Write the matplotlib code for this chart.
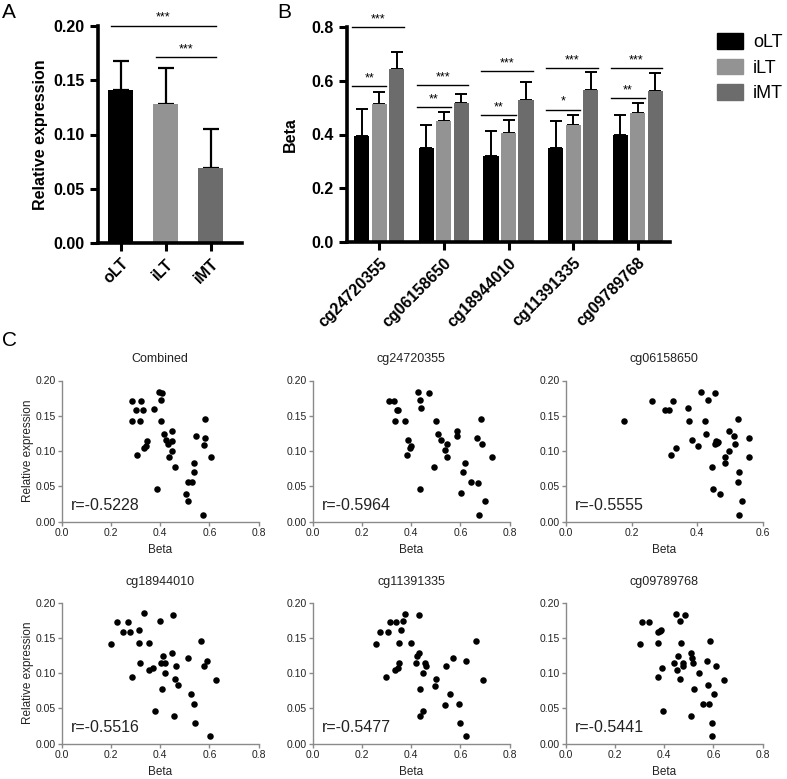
import matplotlib
matplotlib.use("Agg")
from matplotlib import pyplot as plt
from matplotlib.patches import Patch
import numpy as np

plt.rcParams["font.family"] = ["Liberation Sans", "DejaVu Sans"]

# ---- panel A data ----
groups = ["oLT", "iLT", "iMT"]
expr_mean = [0.141, 0.128, 0.069]
expr_sd = [0.027, 0.033, 0.036]
a_sig_pairs = [(0, 2), (1, 2)]
a_sig_y = [0.200, 0.171]
a_sig_text = ["***", "***"]

# ---- panel B data ----
probes = ["cg24720355", "cg06158650", "cg18944010", "cg11391335", "cg09789768"]
beta_olt = [0.396, 0.350, 0.319, 0.350, 0.400]
beta_olt_sd = [0.098, 0.084, 0.093, 0.100, 0.074]
beta_ilt = [0.515, 0.452, 0.407, 0.434, 0.479]
beta_ilt_sd = [0.044, 0.032, 0.048, 0.040, 0.040]
beta_imt = [0.643, 0.519, 0.530, 0.564, 0.563]
beta_imt_sd = [0.063, 0.031, 0.065, 0.067, 0.065]
sig_ilt_y = [0.579, 0.502, 0.471, 0.493, 0.535]
sig_ilt_text = ["**", "**", "**", "*", "**"]
sig_imt_y = [0.800, 0.583, 0.635, 0.648, 0.649]
sig_imt_text = ["***", "***", "***", "***", "***"]

colors = ["#000000", "#939393", "#6c6c6c"]

# ---- panel C data ----
combined_x = [0.286, 0.322, 0.303, 0.328, 0.287, 0.317, 0.374, 0.395, 0.408, 0.405, 0.403, 0.414,
              0.448, 0.422, 0.430, 0.448, 0.446, 0.435, 0.461, 0.346, 0.343, 0.335, 0.305, 0.386,
              0.503, 0.537, 0.537, 0.544, 0.584, 0.584, 0.577, 0.607, 0.514, 0.531, 0.515, 0.574]
combined_y = [0.171, 0.171, 0.158, 0.158, 0.142, 0.142, 0.160, 0.184, 0.182, 0.173, 0.143, 0.124,
              0.128, 0.116, 0.110, 0.114, 0.100, 0.091, 0.078, 0.115, 0.107, 0.105, 0.095, 0.047,
              0.039, 0.083, 0.070, 0.121, 0.145, 0.118, 0.109, 0.091, 0.056, 0.056, 0.030, 0.010]

cg24720355_x = [0.309, 0.330, 0.342, 0.347, 0.335, 0.373, 0.428, 0.436, 0.439, 0.474, 0.501, 0.507,
                0.523, 0.545, 0.536, 0.547, 0.586, 0.588, 0.666, 0.684, 0.688, 0.728, 0.386, 0.400,
                0.395, 0.381, 0.491, 0.434, 0.601, 0.611, 0.620, 0.643, 0.670, 0.700, 0.677]
cg24720355_y = [0.171, 0.171, 0.158, 0.158, 0.142, 0.142, 0.184, 0.173, 0.161, 0.182, 0.142, 0.124,
                0.116, 0.110, 0.101, 0.091, 0.129, 0.121, 0.118, 0.146, 0.110, 0.091, 0.116, 0.107,
                0.104, 0.095, 0.078, 0.047, 0.040, 0.070, 0.083, 0.056, 0.055, 0.030, 0.010]

cg06158650_x = [0.177, 0.263, 0.302, 0.314, 0.326, 0.374, 0.377, 0.412, 0.433, 0.454, 0.423, 0.429,
                0.385, 0.404, 0.337, 0.320, 0.455, 0.458, 0.463, 0.460, 0.497, 0.512, 0.515, 0.525,
                0.559, 0.498, 0.486, 0.559, 0.487, 0.446, 0.527, 0.524, 0.450, 0.470, 0.537, 0.529]
cg06158650_y = [0.142, 0.171, 0.158, 0.158, 0.171, 0.161, 0.142, 0.184, 0.173, 0.182, 0.142, 0.124,
                0.116, 0.107, 0.105, 0.095, 0.110, 0.114, 0.113, 0.112, 0.129, 0.121, 0.110, 0.146,
                0.118, 0.100, 0.092, 0.091, 0.083, 0.078, 0.070, 0.056, 0.047, 0.039, 0.030, 0.010]

cg18944010_x = [0.198, 0.225, 0.269, 0.249, 0.276, 0.333, 0.315, 0.313, 0.355, 0.401, 0.452, 0.317,
                0.356, 0.369, 0.283, 0.411, 0.447, 0.403, 0.421, 0.418, 0.465, 0.460, 0.471, 0.409,
                0.379, 0.457, 0.513, 0.566, 0.590, 0.579, 0.625, 0.524, 0.536, 0.541, 0.603]
cg18944010_y = [0.142, 0.172, 0.172, 0.158, 0.159, 0.185, 0.161, 0.143, 0.143, 0.174, 0.182, 0.115,
                0.104, 0.107, 0.095, 0.124, 0.129, 0.114, 0.114, 0.100, 0.110, 0.092, 0.083, 0.078,
                0.047, 0.039, 0.121, 0.146, 0.118, 0.110, 0.091, 0.070, 0.056, 0.030, 0.011]

cg11391335_x = [0.258, 0.271, 0.306, 0.312, 0.336, 0.366, 0.374, 0.357, 0.351, 0.401, 0.433, 0.297,
                0.334, 0.347, 0.351, 0.420, 0.424, 0.431, 0.456, 0.462, 0.447, 0.499, 0.496, 0.437,
                0.540, 0.571, 0.621, 0.665, 0.692, 0.557, 0.538, 0.595, 0.447, 0.437, 0.599, 0.624]
cg11391335_y = [0.142, 0.158, 0.158, 0.172, 0.172, 0.174, 0.184, 0.161, 0.143, 0.143, 0.182, 0.095,
                0.104, 0.108, 0.115, 0.114, 0.124, 0.128, 0.114, 0.110, 0.100, 0.092, 0.082, 0.078,
                0.110, 0.121, 0.118, 0.146, 0.091, 0.070, 0.055, 0.056, 0.047, 0.039, 0.030, 0.011]

cg09789768_x = [0.302, 0.311, 0.337, 0.374, 0.383, 0.387, 0.374, 0.389, 0.375, 0.393, 0.446, 0.485,
                0.463, 0.467, 0.458, 0.438, 0.452, 0.478, 0.478, 0.463, 0.510, 0.511, 0.518, 0.542,
                0.522, 0.575, 0.586, 0.611, 0.645, 0.577, 0.603, 0.558, 0.583, 0.508, 0.594, 0.596]
cg09789768_y = [0.142, 0.172, 0.172, 0.159, 0.160, 0.161, 0.143, 0.108, 0.095, 0.047, 0.184, 0.182,
                0.174, 0.143, 0.124, 0.115, 0.104, 0.114, 0.110, 0.092, 0.128, 0.121, 0.114, 0.100,
                0.078, 0.118, 0.146, 0.110, 0.091, 0.083, 0.070, 0.056, 0.056, 0.039, 0.030, 0.011]

scatter_titles = ["Combined", "cg24720355", "cg06158650", "cg18944010", "cg11391335", "cg09789768"]
scatter_x = [combined_x, cg24720355_x, cg06158650_x, cg18944010_x, cg11391335_x, cg09789768_x]
scatter_y = [combined_y, cg24720355_y, cg06158650_y, cg18944010_y, cg11391335_y, cg09789768_y]
scatter_r = ["r=-0.5228", "r=-0.5964", "r=-0.5555", "r=-0.5516", "r=-0.5477", "r=-0.5441"]
scatter_xmax = [0.8, 0.8, 0.6, 0.8, 0.8, 0.8]

W, H = 787, 779
fig = plt.figure(figsize=(W / 100, H / 100), dpi=100)


def px_axes(left, top, right, bottom):
    return fig.add_axes([left / W, 1 - bottom / H, (right - left) / W, (bottom - top) / H])


def style_bold(ax):
    for s in ["top", "right"]:
        ax.spines[s].set_visible(False)
    for s in ["left", "bottom"]:
        ax.spines[s].set_linewidth(2.6)
    ax.tick_params(width=2.2, length=6, labelsize=11.5)
    for lab in ax.get_xticklabels() + ax.get_yticklabels():
        lab.set_fontweight("bold")


# ---- A ----
axA = px_axes(98, 26, 242, 243)
xa = np.arange(len(groups))
axA.bar(xa, expr_mean, width=0.55, color=colors, zorder=2)
axA.errorbar(xa, expr_mean, yerr=[np.zeros(3), expr_sd], fmt="none", ecolor="black",
             elinewidth=1.6, capsize=6, capthick=1.6, zorder=1)
axA.set_xlim(-0.5, 2.7)
axA.set_ylim(0, 0.2)
axA.set_yticks([0, 0.05, 0.10, 0.15, 0.20])
axA.set_yticklabels(["0.00", "0.05", "0.10", "0.15", "0.20"])
axA.set_xticks(xa)
axA.set_xticklabels(groups, rotation=45, ha="right", rotation_mode="anchor")
axA.set_ylabel("Relative expression", fontsize=11.5, fontweight="bold", labelpad=4)
style_bold(axA)
for (i, j), y, t in zip(a_sig_pairs, a_sig_y, a_sig_text):
    axA.plot([i - 0.21, j + 0.12], [y, y], color="black", lw=1.0, clip_on=False)
    axA.text((i - 0.21 + j + 0.12) / 2, y + 0.002, t, ha="center", va="bottom", fontsize=9)
fig.text(2 / W, 1 - 12 / H, "A", fontsize=15, va="center")

# ---- B ----
axB = px_axes(347, 27, 670, 242)
xb = np.arange(len(probes))
off = 0.27
bw = 0.235
sets = [(beta_olt, beta_olt_sd), (beta_ilt, beta_ilt_sd), (beta_imt, beta_imt_sd)]
for k, (vals, sd) in enumerate(sets):
    pos = xb + (k - 1) * off
    axB.bar(pos, vals, width=bw, color=colors[k], label=groups[k], zorder=2)
    axB.errorbar(pos, vals, yerr=[np.zeros(len(vals)), sd], fmt="none", ecolor="black",
                 elinewidth=1.4, capsize=4, capthick=1.4, zorder=1)
for g in range(len(probes)):
    for y, t, k in [(sig_ilt_y[g], sig_ilt_text[g], 1), (sig_imt_y[g], sig_imt_text[g], 2)]:
        x0 = g - off - 0.15
        x1 = g + (k - 1) * off + 0.11
        axB.plot([x0, x1], [y, y], color="black", lw=1.0, clip_on=False)
        axB.text((x0 + x1) / 2, y + 0.006, t, ha="center", va="bottom", fontsize=9)
axB.set_xlim(-0.5, 4.5)
axB.set_ylim(0, 0.8)
axB.set_yticks([0, 0.2, 0.4, 0.6, 0.8])
axB.set_yticklabels(["0.0", "0.2", "0.4", "0.6", "0.8"])
axB.set_xticks(xb)
axB.set_xticklabels(probes, rotation=45, ha="right", rotation_mode="anchor")
axB.set_ylabel("Beta", fontsize=11.5, fontweight="bold", labelpad=10)
style_bold(axB)
fig.text(277 / W, 1 - 12 / H, "B", fontsize=15, va="center")

handles = [Patch(facecolor=c, edgecolor=c) for c in colors]
fig.legend(handles, groups, loc="upper left", bbox_to_anchor=(717 / W, 1 - 33 / H),
           frameon=False, fontsize=13, handlelength=1.45, handleheight=0.95,
           labelspacing=0.42, handletextpad=0.55, borderpad=0, borderaxespad=0)

# ---- C ----
fig.text(2 / W, 1 - 340 / H, "C", fontsize=15, va="center")
lefts = [62, 313, 566]
rows = [(380.5, 521.7), (602.7, 743.7)]
for n in range(6):
    r, c = divmod(n, 3)
    top, bot = rows[r]
    ax = px_axes(lefts[c], top, lefts[c] + 196.5, bot)
    ax.scatter(scatter_x[n], scatter_y[n], s=22, color="black", linewidths=0, zorder=3, clip_on=False)
    ax.set_xlim(0, scatter_xmax[n])
    ax.set_ylim(0, 0.2)
    ax.set_yticks([0, 0.05, 0.10, 0.15, 0.20])
    ax.set_yticklabels(["0.00", "0.05", "0.10", "0.15", "0.20"])
    ax.set_xticks(np.arange(0, scatter_xmax[n] + 0.01, 0.2))
    ax.xaxis.set_major_formatter(matplotlib.ticker.FormatStrFormatter("%.1f"))
    for s in ["top", "right"]:
        ax.spines[s].set_visible(False)
    for s in ["left", "bottom"]:
        ax.spines[s].set_color("#8a8a8a")
        ax.spines[s].set_linewidth(1.0)
    ax.tick_params(length=3, width=1, color="#8a8a8a", labelsize=7.5, labelcolor="#222222", pad=1.5)
    ax.set_xlabel("Beta", fontsize=8.5, color="#222222")
    ax.xaxis.set_label_coords(0.5, -0.16)
    if c == 0:
        ax.set_ylabel("Relative expression", fontsize=8.5, color="#222222")
        ax.yaxis.set_label_coords(-0.14, 0.5)
    ax.text(0.5, 1.15, scatter_titles[n], transform=ax.transAxes, ha="center", va="center",
            fontsize=9, color="#222222")
    ax.text(0.045, 0.118, scatter_r[n], transform=ax.transAxes, ha="left", va="center",
            fontsize=11.5, color="#222222")

fig.savefig("out.png", dpi=100)
